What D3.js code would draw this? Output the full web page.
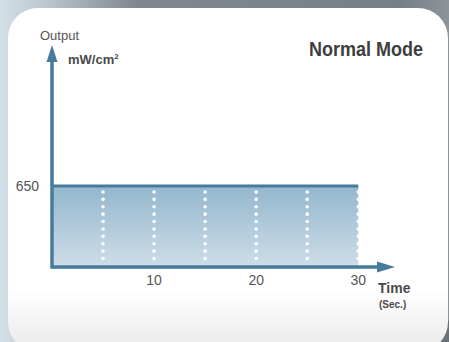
<!DOCTYPE html>
<meta charset="utf-8">
<style>
body { margin: 0; background: #fff; }
svg { display: block; }
.lbl { font-family: "Liberation Sans", Arial, sans-serif; fill: #555; }
.bold { font-weight: bold; fill: #4a4a4a; }
</style>
<script src="https://d3js.org/d3.v7.min.js"></script>
<body>
<svg width="449" height="342"></svg>
<script>

// data
var timeRange = [0, 30];        // seconds
var outputLevel = [650];        // mW/cm2, constant
var xTicks = [10, 20, 30];
var yTicks = [650];
var gridTimes = [5, 10, 15, 20, 25, 30];
var title = "Normal Mode";

var svg = d3.select("svg"),
    width = +svg.attr("width"),
    height = +svg.attr("height");

var x = d3.scaleLinear().domain([0, 33.6]).range([52, 395]);
var y = d3.scaleLinear().domain([0, 1780]).range([267, 45]);

var defs = svg.append("defs");

var bg = defs.append("linearGradient").attr("id", "bg").attr("x1", 0).attr("x2", 1).attr("y1", 0).attr("y2", 0);
bg.append("stop").attr("offset", 0).attr("stop-color", "#d3e0e8");
bg.append("stop").attr("offset", 0.1).attr("stop-color", "#bcc7cf");
bg.append("stop").attr("offset", 0.3).attr("stop-color", "#80878f");
bg.append("stop").attr("offset", 0.9).attr("stop-color", "#767f88");
bg.append("stop").attr("offset", 1).attr("stop-color", "#8d9399");

var card = defs.append("linearGradient").attr("id", "card").attr("x1", 0).attr("x2", 0).attr("y1", 0).attr("y2", 1);
card.append("stop").attr("offset", 0).attr("stop-color", "#ffffff");
card.append("stop").attr("offset", 0.82).attr("stop-color", "#ffffff");
card.append("stop").attr("offset", 1).attr("stop-color", "#e9e9ea");

var fill = defs.append("linearGradient").attr("id", "fill").attr("x1", 0).attr("x2", 0).attr("y1", 0).attr("y2", 1);
fill.append("stop").attr("offset", 0).attr("stop-color", "#93b7cd");
fill.append("stop").attr("offset", 1).attr("stop-color", "#cedde9");

// background + card
svg.append("rect").attr("width", width).attr("height", height).attr("fill", "url(#bg)");
svg.append("path")
    .attr("d", "M" + (width - 20) + "," + height + " L" + width + "," + (height - 22) + " L" + width + "," + height + "Z")
    .attr("fill", "#6b7177");
svg.append("rect")
    .attr("x", 8).attr("y", 8)
    .attr("width", width - 9).attr("height", height + 2)
    .attr("rx", 30).attr("ry", 30)
    .attr("fill", "url(#card)");

var axisColor = "#477a9b";

// filled area
svg.append("rect")
    .attr("x", x(timeRange[0]))
    .attr("y", y(outputLevel[0]))
    .attr("width", x(timeRange[1]) - x(timeRange[0]))
    .attr("height", y(0) - y(outputLevel[0]))
    .attr("fill", "url(#fill)");

// dotted white verticals
svg.selectAll("line.grid")
  .data(gridTimes)
  .enter().append("line")
    .attr("class", "grid")
    .attr("x1", function(d) { return x(d); })
    .attr("x2", function(d) { return x(d); })
    .attr("y1", y(outputLevel[0]) + 6)
    .attr("y2", y(0) - 4)
    .attr("stroke", "#fff")
    .attr("stroke-width", 3.6)
    .attr("stroke-linecap", "round")
    .attr("stroke-dasharray", "0,7.4");

// top line of the level
svg.append("line")
    .attr("x1", x(0)).attr("x2", x(timeRange[1]))
    .attr("y1", y(outputLevel[0])).attr("y2", y(outputLevel[0]))
    .attr("stroke", axisColor).attr("stroke-width", 3);

// axes with arrowheads
var xMax = x.domain()[1], yMax = y.domain()[1];
svg.append("line")
    .attr("x1", x(0)).attr("x2", x(xMax) - 10)
    .attr("y1", y(0)).attr("y2", y(0))
    .attr("stroke", axisColor).attr("stroke-width", 3.5);
svg.append("path")
    .attr("d", "M" + x(xMax) + "," + y(0) + " l-18,-5.5 l0,11 Z")
    .attr("fill", axisColor);

svg.append("line")
    .attr("x1", x(0)).attr("x2", x(0))
    .attr("y1", y(0) + 1.75).attr("y2", y(yMax) + 10)
    .attr("stroke", axisColor).attr("stroke-width", 3.5);
svg.append("path")
    .attr("d", "M" + x(0) + "," + y(yMax) + " l-5.5,17 l11,0 Z")
    .attr("fill", axisColor);

// tick labels
svg.selectAll("text.xt")
  .data(xTicks)
  .enter().append("text")
    .attr("class", "xt lbl")
    .attr("x", function(d) { return x(d); })
    .attr("y", y(0) + 18)
    .attr("text-anchor", "middle")
    .style("font-size", "14px")
    .text(function(d) { return d; });

svg.selectAll("text.yt")
  .data(yTicks)
  .enter().append("text")
    .attr("class", "yt lbl")
    .attr("x", x(0) - 13)
    .attr("y", function(d) { return y(d) + 5; })
    .attr("text-anchor", "end")
    .style("font-size", "14px")
    .text(function(d) { return d; });

// axis titles
svg.append("text").attr("class", "lbl")
    .attr("x", x(0) - 12).attr("y", y(yMax) - 5)
    .style("font-size", "13px")
    .text("Output");
svg.append("text").attr("class", "lbl bold")
    .attr("x", x(0) + 16).attr("y", y(yMax) + 19)
    .style("font-size", "13px")
    .html("mW/cm<tspan font-size='8px' dy='-5'>2</tspan>");

svg.append("text").attr("class", "lbl bold")
    .attr("x", x(xMax) - 17).attr("y", y(0) + 26)
    .style("font-size", "14px")
    .text("Time");
svg.append("text").attr("class", "lbl bold")
    .attr("x", x(xMax) - 16).attr("y", y(0) + 41)
    .style("font-size", "10px")
    .text("(Sec.)");

svg.append("text").attr("class", "lbl bold")
    .attr("x", 309).attr("y", 56)
    .attr("textLength", 114).attr("lengthAdjust", "spacingAndGlyphs")
    .style("font-size", "20px")
    .style("fill", "#3e3e3e")
    .text(title);

</script>
</body>
